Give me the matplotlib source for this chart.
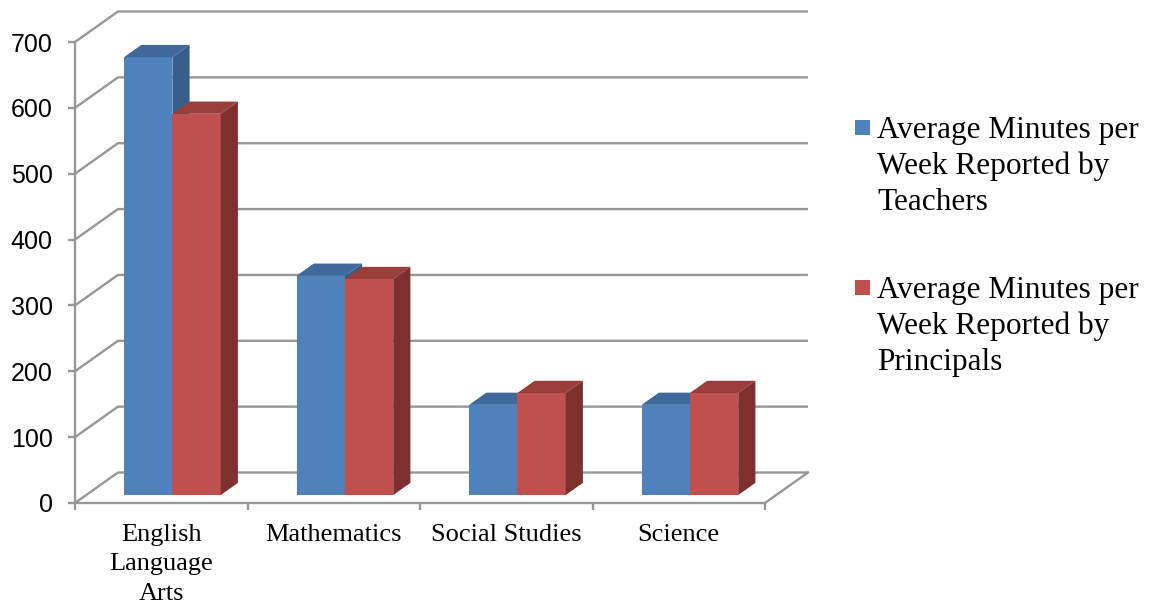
import numpy as np
import matplotlib
matplotlib.use('Agg')
from matplotlib import pyplot as plt
from matplotlib.patches import Polygon, Rectangle

SUBJECTS = ['English\nLanguage\nArts', 'Mathematics', 'Social Studies', 'Science']
TEACHERS = [665, 333, 137, 137]
PRINCIPALS = [579, 328, 155, 155]
SERIES = ['Average Minutes per\nWeek Reported by\nTeachers',
          'Average Minutes per\nWeek Reported by\nPrincipals']
YTICKS = [0, 100, 200, 300, 400, 500, 600, 700]

# oblique "3d" look: depth vector in data units
DX, DY = 0.249, 46.3
F0, F1 = 0.26, 0.66      # front / back depth of the columns
BAR_W = 0.28
GRID = '#979797'

COLORS = [('#4f81bd', '#3f689b', '#385e8c'),
          ('#c0504d', '#9a3e3b', '#7e302e')]


def draw_column(ax, x0, val, face, top, side):
    ox, oy = F0 * DX, F0 * DY
    bx, by = F1 * DX, F1 * DY
    ax.bar(x0 + ox, val, width=BAR_W, bottom=oy, align='edge',
           color=face, linewidth=0, zorder=3)
    ax.add_patch(Polygon([(x0 + ox, val + oy), (x0 + BAR_W + ox, val + oy),
                          (x0 + BAR_W + bx, val + by), (x0 + bx, val + by)],
                         closed=True, color=top, lw=0, zorder=3, clip_on=False))
    ax.add_patch(Polygon([(x0 + BAR_W + ox, oy), (x0 + BAR_W + bx, by),
                          (x0 + BAR_W + bx, val + by), (x0 + BAR_W + ox, val + oy)],
                         closed=True, color=side, lw=0, zorder=3, clip_on=False))


def main():
  plt.rcParams['font.family'] = ['Liberation Sans', 'DejaVu Sans']
  fig = plt.figure(figsize=(11.53, 6.08), dpi=100)
  ax = fig.add_axes([75 / 1153, 105 / 608, 690 / 1153, 461 / 608])

  n = len(SUBJECTS)
  left, right = -0.5, n - 0.5
  ax.set_xlim(left, right)
  ax.set_ylim(0, 700)

  # side wall diagonals and back wall gridlines
  for v in YTICKS:
    ax.plot([left, left + DX, right + DX], [v, v + DY, v + DY],
            color=GRID, lw=1.7, zorder=1, clip_on=False, solid_capstyle='butt')
  # right edge of the floor
  ax.plot([right, right + DX], [0, DY], color=GRID, lw=1.7, zorder=1, clip_on=False)

  for i in range(n):
    draw_column(ax, i - BAR_W, TEACHERS[i], *COLORS[0])
    draw_column(ax, i, PRINCIPALS[i], *COLORS[1])

  for side in ['top', 'right']:
    ax.spines[side].set_visible(False)
  for side in ['left', 'bottom']:
    ax.spines[side].set_color(GRID)
    ax.spines[side].set_linewidth(1.7)
    ax.spines[side].set_zorder(2)

  ax.set_yticks(YTICKS)
  ax.tick_params(axis='y', length=5, width=1.7, color=GRID, pad=11,
                 labelsize=18, labelcolor='black')

  ax.set_xticks(np.arange(left, right + 0.01, 1.0))
  ax.set_xticklabels([])
  ax.tick_params(axis='x', which='major', length=5, width=1.7, color=GRID)
  ax.set_xticks(np.arange(n), minor=True)
  ax.set_xticklabels(SUBJECTS, minor=True, family=['Liberation Serif', 'DejaVu Serif'],
                     fontsize=19, linespacing=1.45)
  ax.tick_params(axis='x', which='minor', length=0, pad=15)

  # legend: square beside the first line of each entry
  for k, label in enumerate(SERIES):
    top_px = 120 + k * 160
    fig.patches.append(Rectangle((855 / 1153, 1 - (top_px + 15) / 608), 15 / 1153, 15 / 608,
                                 transform=fig.transFigure, color=COLORS[k][0], lw=0))
    fig.text(877 / 1153, 1 - (top_px - 4) / 608, label, ha='left', va='top',
             family=['Liberation Serif', 'DejaVu Serif'], fontsize=22.5, linespacing=1.3)

  fig.savefig('out.png', dpi=100)


if __name__ == '__main__':
  main()
